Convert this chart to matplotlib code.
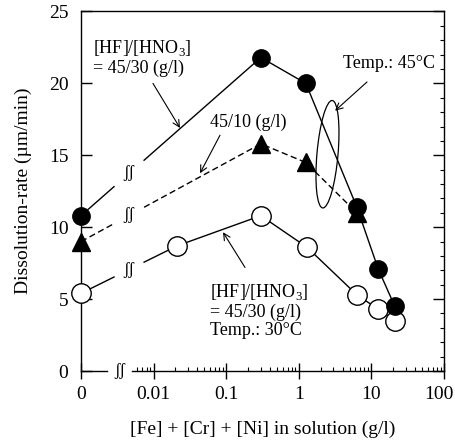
import numpy as np
import matplotlib
matplotlib.use("Agg")
import matplotlib.pyplot as plt
import matplotlib.transforms as mtransforms
from matplotlib.patches import Ellipse
from matplotlib.ticker import FixedLocator, FixedFormatter, MultipleLocator

plt.rcParams['font.family'] = ['Liberation Serif', 'DejaVu Serif']
plt.rcParams['mathtext.fontset'] = 'custom'
plt.rcParams['mathtext.rm'] = 'Liberation Serif'

# "0" on the concentration axis is drawn one decade left of 0.01
ZERO_POS = 0.001

# [HF]/[HNO3] = 45/30, 45 C
conc_4530_45 = [0, 0.3, 1.25, 6.3, 12.4, 21]
rate_4530_45 = [10.8, 21.8, 20.0, 11.4, 7.1, 4.5]
# [HF]/[HNO3] = 45/10, 45 C
conc_4510_45 = [0, 0.3, 1.25, 6.3]
rate_4510_45 = [9.0, 15.8, 14.5, 11.0]
# [HF]/[HNO3] = 45/30, 30 C
conc_4530_30 = [0, 0.021, 0.3, 1.3, 6.3, 12.4, 21]
rate_4530_30 = [5.4, 8.7, 10.8, 8.6, 5.3, 4.3, 3.5]

xticks = [0.001, 0.01, 0.1, 1, 10, 100]
xticklabels = ['0', '0.01', '0.1', '1', '10', '100']

BREAK = "\u0283\u0283"
GAP_LO, GAP_HI = -2.545, -2.131   # log10 range of the break on the data lines
FS = 14
AFS = 13


def broken_line(ax, xs, ys, **kw):
    lx = np.log10([ZERO_POS if x == 0 else x for x in xs])
    ly = np.array(ys, dtype=float)
    # first segment (from the "0" point) gets a gap with the break mark
    f = lambda t: ly[0] + (ly[1] - ly[0]) * (t - lx[0]) / (lx[1] - lx[0])
    ax.plot(10 ** np.array([lx[0], GAP_LO]), [ly[0], f(GAP_LO)], color='k', lw=1.0, **kw)
    ax.plot(10 ** np.concatenate([[GAP_HI], lx[1:]]), np.concatenate([[f(GAP_HI)], ly[1:]]),
            color='k', lw=1.0, **kw)
    mid = (GAP_LO + GAP_HI) / 2
    ax.text(10 ** mid, f(mid), BREAK, ha='center', va='center', fontsize=12)
    return 10 ** lx, ly


fig = plt.figure(figsize=(4.56, 4.4), dpi=100)
ax = fig.add_axes([81 / 456, 69 / 440, 363 / 456, 359.5 / 440])
ax.set_xscale('log')
ax.set_xlim(ZERO_POS, 100)
ax.set_ylim(0, 25)

x1, y1 = broken_line(ax, conc_4530_45, rate_4530_45)
x2, y2 = broken_line(ax, conc_4510_45, rate_4510_45, ls=(0, (4.5, 2.5)))
x3, y3 = broken_line(ax, conc_4530_30, rate_4530_30)

ax.plot(x3, y3, 'o', ms=14, mfc='white', mec='k', mew=1.0, ls='none', zorder=3, clip_on=False)
ax.plot(x2, y2, '^', ms=12.5, mfc='k', mec='k', ls='none', zorder=4, clip_on=False)
ax.plot(x1, y1, 'o', ms=12.5, mfc='k', mec='k', ls='none', zorder=5, clip_on=False)

# broken x axis
ax.spines['bottom'].set_visible(False)
ax.plot([ZERO_POS, 0.0023], [0, 0], color='k', lw=1.0, clip_on=False)
ax.plot([0.0051, 100], [0, 0], color='k', lw=1.0, clip_on=False)
ax.text(0.0034, 0, BREAK, ha='center', va='center', fontsize=12)
for s in ['left', 'right', 'top']:
    ax.spines[s].set_linewidth(1.0)

ax.xaxis.set_major_locator(FixedLocator(xticks))
ax.xaxis.set_major_formatter(FixedFormatter(xticklabels))
minors = [m * 10.0 ** e for e in range(-2, 2) for m in range(2, 10)] + [0.006, 0.007, 0.008, 0.009]
ax.xaxis.set_minor_locator(FixedLocator(minors))
ax.xaxis.set_minor_formatter(FixedFormatter([''] * len(minors)))
ax.tick_params(axis='x', which='major', direction='inout', length=11, width=1.0, pad=5, labelsize=FS)
ax.tick_params(axis='x', which='minor', direction='in', length=3, width=0.8)

ax.yaxis.set_major_locator(MultipleLocator(5))
ax.yaxis.set_minor_locator(MultipleLocator(1))
ax.tick_params(axis='y', which='major', direction='in', left=True, right=True,
               length=8, width=1.0, pad=9, labelsize=FS)
ax.tick_params(axis='y', which='minor', direction='in', left=False, right=True, length=3, width=0.8)

ax.set_xlabel('[Fe] + [Cr] + [Ni] in solution (g/l)', fontsize=FS, labelpad=13)
ax.set_ylabel('Dissolution-rate (\u00b5m/min)', fontsize=FS, labelpad=12)

# keep the "100" label inside the figure
fig.canvas.draw()
last = ax.xaxis.get_major_ticks()[-1].label1
last.set_transform(last.get_transform() + mtransforms.ScaledTranslation(-4 / 72, 0, fig.dpi_scale_trans))

# annotations
arw = dict(arrowstyle='->', lw=0.8, color='k', shrinkA=0, shrinkB=0, mutation_scale=12)
ax.text(0.00146, 21.8, '[HF]/[HNO$_3$]\n= 45/30 (g/l)', ha='left', va='center', fontsize=AFS,
        linespacing=1.1)
ax.annotate('', xy=(0.0231, 16.9), xytext=(0.0098, 20.0), arrowprops=arw)

ax.text(0.0598, 17.3, '45/10 (g/l)', ha='left', va='center', fontsize=AFS)
ax.annotate('', xy=(0.0436, 13.75), xytext=(0.0822, 16.4), arrowprops=arw)

ax.text(4.06, 21.4, 'Temp.: 45\u00b0C', ha='left', va='center', fontsize=AFS)
ax.annotate('', xy=(3.16, 18.1), xytext=(8.7, 20.1), arrowprops=arw)
ax.add_patch(Ellipse((0.679, 0.603), 0.058, 0.30, angle=-5, transform=ax.transAxes,
                     fill=False, ec='k', lw=0.9))

ax.text(0.0598, 4.2, '[HF]/[HNO$_3$]\n= 45/30 (g/l)\nTemp.: 30\u00b0C', ha='left', va='center',
        fontsize=AFS, linespacing=1.1)
ax.annotate('', xy=(0.0904, 9.65), xytext=(0.1816, 7.2), arrowprops=arw)

fig.savefig('out.png', dpi=100)
